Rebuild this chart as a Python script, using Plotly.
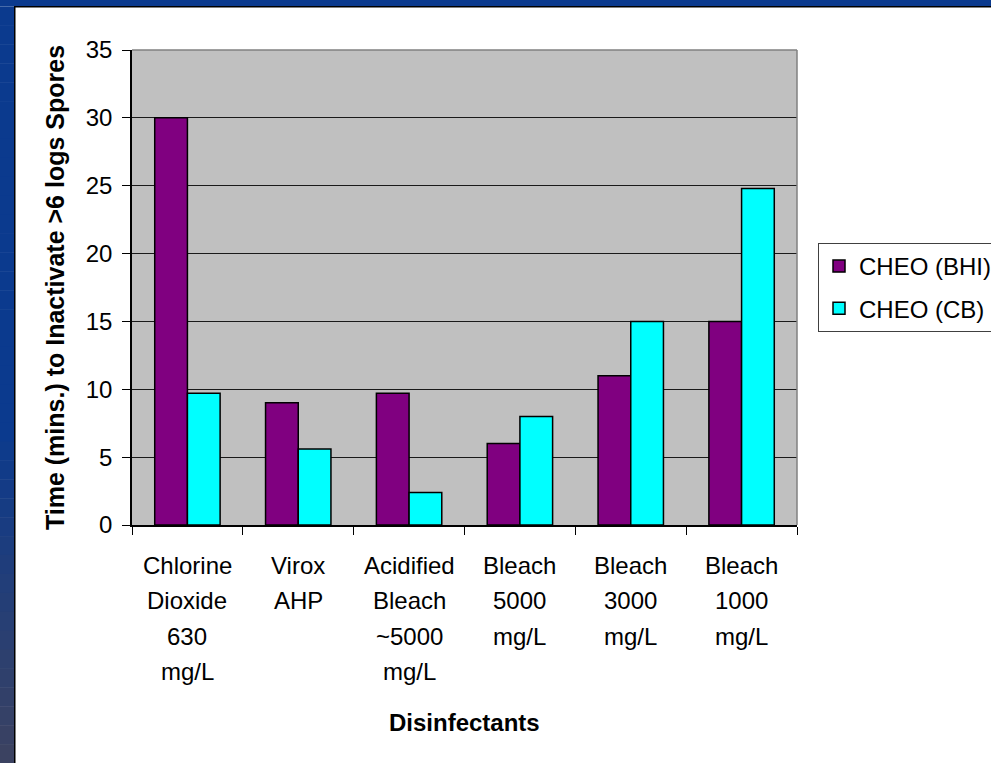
import plotly.graph_objects as go

# Disinfectant categories (each line of a label is drawn on its own row)
categories = [
    "Chlorine Dioxide 630 mg/L",
    "Virox AHP",
    "Acidified Bleach ~5000 mg/L",
    "Bleach 5000 mg/L",
    "Bleach 3000 mg/L",
    "Bleach 1000 mg/L",
]
label_lines = [
    ["Chlorine", "Dioxide", "630", "mg/L"],
    ["Virox", "AHP"],
    ["Acidified", "Bleach", "~5000", "mg/L"],
    ["Bleach", "5000", "mg/L"],
    ["Bleach", "3000", "mg/L"],
    ["Bleach", "1000", "mg/L"],
]

# Minutes needed to inactivate >6 logs of spores
cheo_bhi = [30, 9, 9.7, 6, 11, 15]
cheo_cb = [9.7, 5.6, 2.4, 8, 15, 24.8]

y_ticks = [0, 5, 10, 15, 20, 25, 30, 35]

W, H = 991, 763
ML, MR, MT, MB = 132, 194, 50, 238
PW, PH = W - ML - MR, H - MT - MB

FONT = "Liberation Sans, Arial, sans-serif"


def px_x(px):
    return (px - ML) / PW


def px_y(py):
    return (H - MB - py) / PH


fig = go.Figure()
fig.add_trace(go.Bar(
    x=categories, y=cheo_bhi, name="CHEO (BHI)",
    marker=dict(color="#800080", line=dict(color="#000000", width=1.5)),
    legendgroup="a",
))
fig.add_trace(go.Bar(
    x=categories, y=cheo_cb, name="CHEO (CB)",
    marker=dict(color="#00FFFF", line=dict(color="#000000", width=1.5)),
    legendgroup="b",
))

shapes = []
# slide frame: blue strip along the top and a shaded strip down the left side
shapes.append(dict(type="rect", xref="paper", yref="paper",
                   x0=px_x(0), x1=px_x(W), y0=px_y(0), y1=px_y(6.5),
                   fillcolor="#0b3a8e", line=dict(width=0), layer="below"))
top_c = (11, 58, 142)
bot_c = (60, 66, 96)
n_bands = 40
for i in range(n_bands):
    y0 = 6.5 + i * (H - 6.5) / n_bands
    y1 = 6.5 + (i + 1) * (H - 6.5) / n_bands
    mid = (y0 + y1) / 2
    t = max(0.0, (mid - 430) / (H - 430))
    c = tuple(round(a + (b - a) * t) for a, b in zip(top_c, bot_c))
    shapes.append(dict(type="rect", xref="paper", yref="paper",
                       x0=px_x(0), x1=px_x(14), y0=px_y(y0), y1=px_y(y1 + 0.5),
                       fillcolor="rgb(%d,%d,%d)" % c, line=dict(width=0), layer="below"))
shapes.append(dict(type="rect", xref="paper", yref="paper",
                   x0=px_x(14), x1=px_x(15.5), y0=px_y(6), y1=px_y(H),
                   fillcolor="#000000", line=dict(width=0), layer="below"))
shapes.append(dict(type="rect", xref="paper", yref="paper",
                   x0=px_x(14), x1=px_x(W), y0=px_y(6), y1=px_y(7.5),
                   fillcolor="#000000", line=dict(width=0), layer="below"))
# gray plot-area border on the top and right
shapes.append(dict(type="line", xref="paper", yref="paper",
                   x0=0, x1=1, y0=1, y1=1, line=dict(color="#808080", width=1.5)))
shapes.append(dict(type="line", xref="paper", yref="paper",
                   x0=1, x1=1, y0=0, y1=1, line=dict(color="#808080", width=1.5)))

# multi-line category labels under the x axis
annotations = []
line_gap = 35.5
for cat, lines in zip(categories, label_lines):
    for j, txt in enumerate(lines):
        annotations.append(dict(
            x=cat, y=0, xref="x", yref="y", text=txt, showarrow=False,
            xanchor="center", yanchor="middle", yshift=-(40 + j * line_gap),
            font=dict(family=FONT, size=24, color="#000000"),
        ))
# x-axis title, set below the multi-line category labels
annotations.append(dict(
    x=0.5, y=px_y(722), xref="paper", yref="paper",
    text="<b>Disinfectants</b>", showarrow=False,
    xanchor="center", yanchor="middle",
    font=dict(family=FONT, size=24, color="#000000"),
))

fig.update_layout(
    width=W, height=H,
    margin=dict(l=ML, r=MR, t=MT, b=MB, autoexpand=False),
    paper_bgcolor="#FFFFFF",
    plot_bgcolor="#C0C0C0",
    barmode="group", bargap=0.41, bargroupgap=0,
    font=dict(family=FONT, size=24, color="#000000"),
    shapes=shapes,
    annotations=annotations,
    legend=dict(
        x=px_x(818), y=px_y(243), xanchor="left", yanchor="top",
        bordercolor="#404040", borderwidth=1, bgcolor="#FFFFFF",
        font=dict(family=FONT, size=24, color="#000000"),
        traceorder="grouped", tracegroupgap=8,
    ),
    xaxis=dict(
        type="category", showticklabels=False,
        tickson="boundaries", ticks="outside", ticklen=8, tickcolor="#000000",
        showline=True, linecolor="#000000", linewidth=1.5,
        showgrid=False, zeroline=False,
    ),
    yaxis=dict(
        range=[0, 35], tickvals=y_ticks,
        ticks="outside", ticklen=8, tickcolor="#000000",
        ticklabelstandoff=5,
        showline=True, linecolor="#000000", linewidth=1.5,
        showgrid=True, gridcolor="#1a1a1a", gridwidth=1,
        zeroline=False,
        title=dict(text="<b>Time (mins.) to Inactivate >6 logs Spores</b>",
                   standoff=14, font=dict(family=FONT, size=25)),
    ),
)

fig.write_html("out.html")
